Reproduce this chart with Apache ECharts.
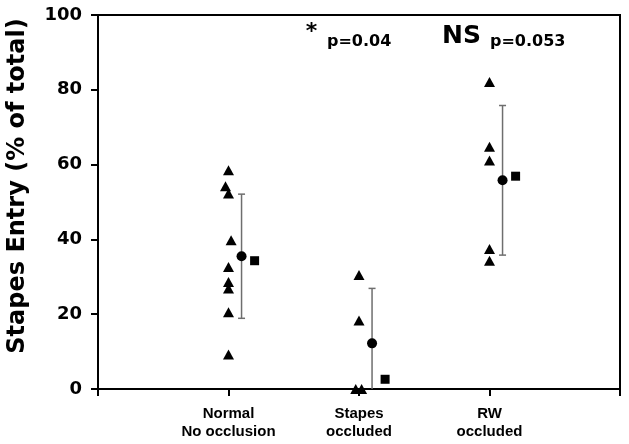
<!DOCTYPE html>
<html>
<head>
<meta charset="utf-8">
<script src="https://cdn.jsdelivr.net/npm/echarts@6/dist/echarts.min.js"></script>
<style>html,body{margin:0;padding:0;background:#fff;}#c{width:629px;height:444px;}</style>
</head>
<body>
<div id="c"></div>
<script>
// ---- data ----
var categories = ['Normal\nNo occlusion', 'Stapes\noccluded', 'RW\noccluded'];
var categoryX = [1, 2, 3];
var yTicks = [0, 20, 40, 60, 80, 100];
var yTitle = 'Stapes Entry (% of total)';

// individual values (triangles) with their x placement on the value x-axis
var normalVals = [58.5, 54.2, 52.3, 39.8, 32.6, 28.6, 26.9, 20.5, 9.2];
var normalX    = [1.0, 0.977, 1.0, 1.02, 1.0, 1.0, 1.0, 1.0, 1.0];
var stapesVals = [30.5, 18.3, 0, 0];
var stapesX    = [2.0, 2.0, 1.975, 2.02];
var rwVals     = [82.1, 64.8, 61.1, 37.4, 34.3];
var rwX        = [3.0, 3.0, 3.0, 3.0, 3.0];

// means (circles) with standard deviations, and squares
var meanX   = [1.1, 2.1, 3.1];
var means   = [35.5, 12.2, 55.8];
var sds     = [16.6, 14.7, 20.0];
var squareX = [1.2, 2.2, 3.2];
var squares = [34.3, 2.6, 56.9];

var annotations = ['*', 'p=0.04', 'NS', 'p=0.053'];

// ---- build ----
function pairs(xs, ys){ return ys.map(function(v,i){ return [xs[i], v]; }); }
var triData = pairs(normalX, normalVals).concat(pairs(stapesX, stapesVals), pairs(rwX, rwVals));
var meanData = pairs(meanX, means);
var errData = means.map(function(m,i){ return [meanX[i], m - sds[i], m + sds[i]]; });
var sqData = pairs(squareX, squares);

var chart = echarts.init(document.getElementById('c'), null, {renderer:'canvas'});
var axisCommon = {
  axisLine: {show:true, onZero:false, lineStyle:{color:'#000', width:2}},
  axisTick: {show:true, inside:false, length:7, lineStyle:{color:'#000', width:2}},
  splitLine: {show:false}
};
chart.setOption({
  animation: false,
  backgroundColor: '#fff',
  grid: {left:98, right:9, top:15, bottom:55, show:true, borderColor:'#000', borderWidth:2, backgroundColor:'transparent'},
  xAxis: Object.assign({
    type:'value', min:0, max:4, interval:1,
    axisLabel: {
      margin:16, color:'#000', fontWeight:'bold', fontSize:15, lineHeight:18,
      fontFamily:'Liberation Sans, Arial, sans-serif',
      formatter: function(v){ var i = categoryX.indexOf(v); return i >= 0 ? categories[i] : ''; }
    }
  }, axisCommon),
  yAxis: Object.assign({
    type:'value', min:0, max:100, interval:20,
    axisLabel: {margin:16, color:'#000', fontWeight:'bold', fontSize:18, fontFamily:'DejaVu Sans, sans-serif',
      formatter: function(v){ return yTicks.indexOf(v) >= 0 ? String(v) : ''; }}
  }, axisCommon),
  series: [
    {
      type:'custom', data: errData, z:2,
      renderItem: function(params, api){
        var x = api.value(0), lo = Math.max(api.value(1), 0), hi = api.value(2);
        var pTop = api.coord([x, hi]);
        var pBot = api.coord([x, lo]);
        var cap = 3.5;
        var children = [
          {type:'line', shape:{x1:pTop[0], y1:pTop[1], x2:pBot[0], y2:pBot[1]}, style:{stroke:'#6e6e6e', lineWidth:1.5}},
          {type:'line', shape:{x1:pTop[0]-cap, y1:pTop[1], x2:pTop[0]+cap, y2:pTop[1]}, style:{stroke:'#6e6e6e', lineWidth:1.5}}
        ];
        if (api.value(1) >= 0) {
          children.push({type:'line', shape:{x1:pBot[0]-cap, y1:pBot[1], x2:pBot[0]+cap, y2:pBot[1]}, style:{stroke:'#6e6e6e', lineWidth:1.5}});
        }
        return {type:'group', children:children};
      }
    },
    {type:'scatter', data: triData, symbol:'triangle', symbolSize:[11,10], itemStyle:{color:'#000', opacity:1}, z:3},
    {type:'scatter', data: meanData, symbol:'circle', symbolSize:10, itemStyle:{color:'#000', opacity:1}, z:4},
    {type:'scatter', data: sqData, symbol:'rect', symbolSize:9, itemStyle:{color:'#000', opacity:1}, z:4}
  ],
  graphic: [
    {type:'text', x:18, y:186, rotation:Math.PI/2, style:{text:yTitle, fill:'#000', font:'bold 24px "DejaVu Sans"', align:'center', verticalAlign:'middle'}},
    {type:'text', x:311.5, y:32, style:{text:annotations[0], fill:'#000', font:'bold 22px "DejaVu Sans"', align:'center', verticalAlign:'middle'}},
    {type:'text', x:327, y:41.5, style:{text:annotations[1], fill:'#000', font:'bold 16px "DejaVu Sans"', align:'left', verticalAlign:'middle'}},
    {type:'text', x:442, y:36.5, style:{text:annotations[2], fill:'#000', font:'bold 25px "DejaVu Sans"', align:'left', verticalAlign:'middle'}},
    {type:'text', x:490, y:41.5, style:{text:annotations[3], fill:'#000', font:'bold 16px "DejaVu Sans"', align:'left', verticalAlign:'middle'}}
  ]
});
</script>
</body>
</html>
